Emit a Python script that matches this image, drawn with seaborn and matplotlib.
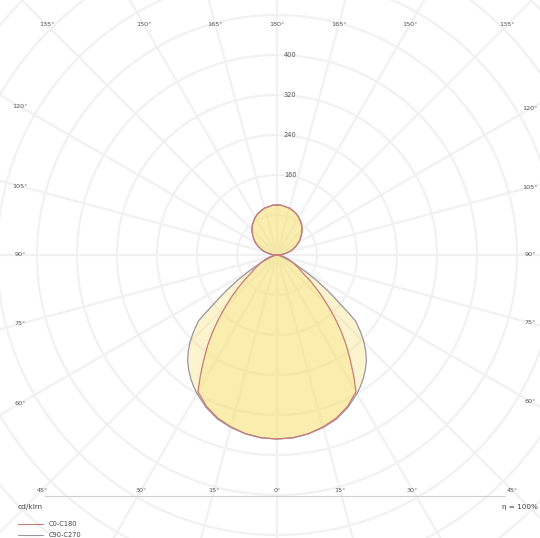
import numpy as np
import matplotlib
matplotlib.use("Agg")
import matplotlib.pyplot as plt
import seaborn as sns

# luminous intensity (cd/klm) vs gamma angle (deg, 0 = straight down)
gamma = [0, 5, 10, 15, 20, 25, 30, 32.5, 35, 37.5, 40, 42.5, 45, 47.5, 50, 51,
         52, 53.5, 55, 57.5, 60, 65, 70, 75, 80, 85, 90, 95, 100, 105, 110, 115,
         120, 125, 130, 135, 140, 145, 150, 155, 160, 165, 170, 175, 180]
upper = [9, 17, 26, 34, 42, 50, 57, 64, 71, 77, 82, 87, 91, 94, 97, 98, 100, 100]
c0_c180 = [368, 367, 363, 356, 347, 334, 316, 285, 255, 228, 200, 172, 145, 122,
           100, 92, 85, 74, 64, 55, 47, 34, 24, 15, 9, 4, 0] + upper
c90_c270 = [368, 367, 363, 357, 349, 336, 320, 311, 301, 290, 278, 263, 246, 226,
            205, 184, 164, 142, 122, 92, 66, 34, 14, 6, 3, 1, 0] + upper

ring_values = [80, 160, 240, 320, 400, 480, 560, 640, 720, 800]
ring_labels = [160, 240, 320, 400]
spoke_angles = list(range(0, 360, 15))
series_names = ["C0-C180", "C90-C270"]
series_colors = ["#c97a7a", "#9c93a3"]
fill_color = "#f7e173"

sns.set_theme(style="white")
plt.rcParams['font.family'] = ['DejaVu Sans']

fig = plt.figure(figsize=(5.4, 5.38), dpi=100)
ax = fig.add_axes([0, 0, 1, 1])
ax.set_xlim(-554, 526)
ax.set_ylim(-566, 510)
ax.set_aspect("equal")
ax.set_axis_off()


def to_xy(angles, values):
    # mirror the half-plane data to both sides, gamma measured from downward vertical
    g = np.radians(np.array(angles, dtype=float))
    v = np.array(values, dtype=float)
    g_all = np.concatenate([-g[::-1], g[1:]])
    v_all = np.concatenate([v[::-1], v[1:]])
    return v_all * np.sin(g_all), -v_all * np.cos(g_all)


# polar grid
grid_col = "#f1f1f1"
t = np.linspace(0, 2 * np.pi, 400)
for r in ring_values:
    ax.plot(r * np.cos(t), r * np.sin(t), color=grid_col, lw=1.6, zorder=1)
for a in spoke_angles:
    ar = np.radians(a)
    ax.plot([0, 900 * np.sin(ar)], [0, -900 * np.cos(ar)], color=grid_col, lw=1.6, zorder=1)

# angle labels where spokes meet the label box
bx0, bx1, by0, by1 = -514, 506, -470, 460
for a in spoke_angles:
    ar = np.radians(a)
    dx, dy = np.sin(ar), -np.cos(ar)
    ts = []
    if dx > 1e-9:
        ts.append(bx1 / dx)
    if dx < -1e-9:
        ts.append(bx0 / dx)
    if dy > 1e-9:
        ts.append(by1 / dy)
    if dy < -1e-9:
        ts.append(by0 / dy)
    tt = min(ts)
    lab = a if a <= 180 else 360 - a
    ax.text(tt * dx, tt * dy, f"{lab}°", fontsize=4.6, color="#555555",
            ha="center", va="center", zorder=5)

for r in ring_labels:
    ax.text(14, r, str(r), fontsize=4.8, color="#555555", ha="left", va="center", zorder=5)

# curves
for vals in [c90_c270, c0_c180]:
    x, y = to_xy(gamma, vals)
    ax.fill(x, y, color=fill_color, alpha=0.35, lw=0, zorder=2)
for vals, col in zip([c90_c270, c0_c180], series_colors[::-1]):
    x, y = to_xy(gamma, vals)
    sns.lineplot(x=x, y=y, sort=False, estimator=None, color=col, lw=0.9, ax=ax, zorder=3)

# bottom frame line and footer texts
ax.plot([-464, 456], [-482, -482], color="#cfcfcf", lw=0.8, zorder=4)
ax.text(-518, -504, "cd/klm", fontsize=5.4, color="#444444", ha="left", va="center")
ax.text(522, -504, "η = 100%", fontsize=5.2, color="#444444", ha="right", va="center")
for i, (name, col) in enumerate(zip(series_names, series_colors)):
    yy = -538 - 22 * i
    ax.plot([-518, -468], [yy, yy], color=col, lw=0.8)
    ax.text(-456, yy, name, fontsize=4.8, color="#444444", ha="left", va="center")

fig.savefig("out.png", dpi=100)
